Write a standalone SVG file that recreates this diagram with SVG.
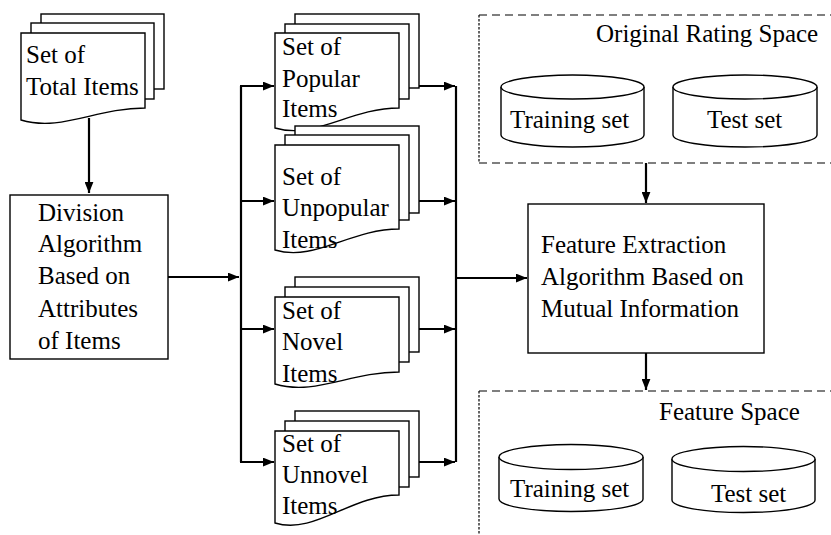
<svg xmlns="http://www.w3.org/2000/svg" width="831" height="535" viewBox="0 0 831 535">
<style>
text{font-family:"Liberation Serif","Times New Roman",serif;font-size:25px;fill:#000}
.sh{fill:#fff;stroke:#000;stroke-width:1.4}
.cn{fill:none;stroke:#000;stroke-width:2.2}
.dash{fill:none;stroke:#000;stroke-width:1.2;stroke-dasharray:8 5}
.dot{fill:none;stroke:#000;stroke-width:1.2;stroke-dasharray:2.5 1.5}
</style>
<defs>
<marker id="ah" viewBox="0 0 10 8" refX="10" refY="4" markerWidth="11" markerHeight="9" markerUnits="userSpaceOnUse" orient="auto">
<path d="M0,0 L10,4 L0,8 Z" fill="#000"/>
</marker>
</defs>
<rect width="831" height="535" fill="#fff"/>

<g id="total-items">
<rect class="sh" x="41" y="14" width="123" height="75"/>
<rect class="sh" x="31" y="23" width="123" height="76"/>
<path class="sh" d="M21,120 C61,132 96,108 145,108 V33 H21 Z"/>
<text x="26" y="63">Set of</text>
<text x="26" y="95">Total Items</text>
</g>

<g id="division">
<rect class="sh" x="10" y="195" width="158" height="164"/>
<text x="38" y="221">Division</text>
<text x="38" y="252">Algorithm</text>
<text x="38" y="284">Based on</text>
<text x="38" y="317">Attributes</text>
<text x="38" y="349">of Items</text>
</g>

<g id="popular">
<rect class="sh" x="295" y="14" width="124" height="74"/>
<rect class="sh" x="285" y="24" width="124" height="75"/>
<path class="sh" d="M275,128 C315,140 350,108 399,108 V33 H275 Z"/>
<text x="282" y="55">Set of</text>
<text x="282" y="87">Popular</text>
<text x="282" y="117">Items</text>
</g>

<g id="unpopular">
<rect class="sh" x="295" y="126" width="124" height="87"/>
<rect class="sh" x="285" y="135" width="124" height="85"/>
<path class="sh" d="M275,250 C315,262 350,229 399,229 V145 H275 Z"/>
<text x="282" y="185">Set of</text>
<text x="282" y="216">Unpopular</text>
<text x="282" y="248">Items</text>
</g>

<g id="novel">
<rect class="sh" x="295" y="277" width="124" height="75"/>
<rect class="sh" x="285" y="287" width="124" height="75"/>
<path class="sh" d="M275,384 C315,396 350,372 399,372 V297 H275 Z"/>
<text x="282" y="319">Set of</text>
<text x="282" y="350">Novel</text>
<text x="282" y="382">Items</text>
</g>

<g id="unnovel">
<rect class="sh" x="295" y="411" width="124" height="66"/>
<rect class="sh" x="285" y="421" width="124" height="66"/>
<path class="sh" d="M275,523 C315,535 350,495 399,495 V431 H275 Z"/>
<text x="282" y="452">Set of</text>
<text x="282" y="483">Unnovel</text>
<text x="282" y="514">Items</text>
</g>

<g id="original-rating-space">
<path class="dash" d="M479,15 H831 M479,163 H831"/>
<path class="dot" d="M479,15 V163"/>
<text x="596" y="42">Original Rating Space</text>
<g id="ors-training">
<path class="sh" d="M501,87 A71.5,12 0 0 1 644,87 V135 A71.5,12 0 0 1 501,135 Z"/>
<path class="sh" d="M501,87 A71.5,12 0 0 0 644,87"/>
<text x="510" y="128">Training set</text>
</g>
<g id="ors-test">
<path class="sh" d="M673,87 A72,12 0 0 1 817,87 V135 A72,12 0 0 1 673,135 Z"/>
<path class="sh" d="M673,87 A72,12 0 0 0 817,87"/>
<text x="707" y="128">Test set</text>
</g>
</g>

<g id="feature-extraction">
<rect class="sh" x="528" y="204" width="236" height="149"/>
<text x="541" y="253">Feature Extraction</text>
<text x="541" y="285">Algorithm Based on</text>
<text x="541" y="317">Mutual Information</text>
</g>

<g id="feature-space">
<path class="dash" d="M479,391 H831"/>
<path class="dot" d="M479,391 V535"/>
<text x="659" y="420">Feature Space</text>
<g id="fs-training">
<path class="sh" d="M499,457 A72,12.5 0 0 1 643,457 V499 A72,12.5 0 0 1 499,499 Z"/>
<path class="sh" d="M499,457 A72,12.5 0 0 0 643,457"/>
<text x="510" y="497">Training set</text>
</g>
<g id="fs-test">
<path class="sh" d="M672,459 A71.5,12.5 0 0 1 815,459 V500 A71.5,12.5 0 0 1 672,500 Z"/>
<path class="sh" d="M672,459 A71.5,12.5 0 0 0 815,459"/>
<text x="711" y="502">Test set</text>
</g>
</g>

<g id="connectors">
<path class="cn" d="M89,118 V193" marker-end="url(#ah)"/>
<path class="cn" d="M168,277 H239" marker-end="url(#ah)"/>
<path class="cn" d="M241,86 V462"/>
<path class="cn" d="M240,86 H274" marker-end="url(#ah)"/>
<path class="cn" d="M240,201 H274" marker-end="url(#ah)"/>
<path class="cn" d="M240,329 H274" marker-end="url(#ah)"/>
<path class="cn" d="M240,462 H274" marker-end="url(#ah)"/>
<path class="cn" d="M419,86 H455" marker-end="url(#ah)"/>
<path class="cn" d="M419,201 H455" marker-end="url(#ah)"/>
<path class="cn" d="M419,329 H455" marker-end="url(#ah)"/>
<path class="cn" d="M419,462 H455" marker-end="url(#ah)"/>
<path class="cn" d="M456,86 V462"/>
<path class="cn" d="M456,278 H527" marker-end="url(#ah)"/>
<path class="cn" d="M646,163 V203" marker-end="url(#ah)"/>
<path class="cn" d="M646,353 V390" marker-end="url(#ah)"/>
</g>
</svg>
